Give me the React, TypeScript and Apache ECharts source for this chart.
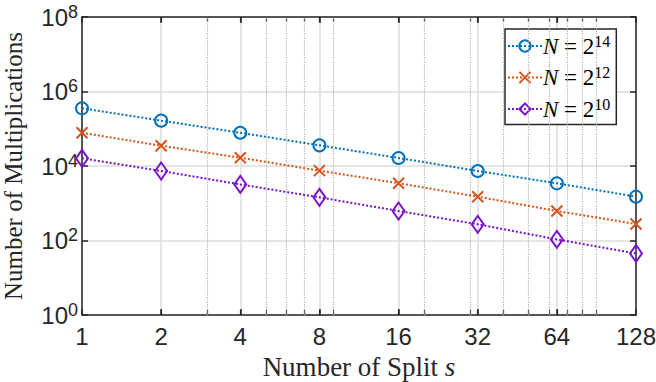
import React, { useEffect, useRef } from "react";
import * as echarts from "echarts";

const splits = [1, 2, 4, 8, 16, 32, 64, 128];
const seriesNames = ["N = 2^14", "N = 2^12", "N = 2^10"];
const exps = ["14", "12", "10"];
const n14 = [3.54e5, 1.65e5, 7.8e4, 3.59e4, 1.64e4, 7.35e3, 3.43e3, 1.5e3];
const n12 = [7.8e4, 3.5e4, 1.67e4, 7.5e3, 3.45e3, 1.5e3, 620, 277];
const n10 = [1.61e4, 7.35e3, 3.2e3, 1.44e3, 620, 272, 107, 45];
const minorX = [3, 5, 6, 7, 9, 20, 30, 40, 50, 60, 70, 80, 90];
const minorTickX = [2, 3, 4, 5, 6, 7, 8, 9, 16, 20, 30, 32, 40, 50, 60, 64, 70, 80, 90];

const colors = ["#0072BD", "#D95319", "#7A10CC"];
const AX = "#262626";

export default function App() {
  const ref = useRef<HTMLDivElement>(null);
  useEffect(() => {
    if (!ref.current) return;
    document.body.style.margin = "0";
    const chart = echarts.init(ref.current, undefined, { renderer: "svg" });
    const datas = [n14, n12, n10];
    const symbols = ["circle", "path://M0,0L10,10M10,0L0,10", "diamond"];
    const sizes: any[] = [12, 11, [12, 17]];
    const baseX = {
      type: "log",
      logBase: 2,
      min: 1,
      max: 128,
      interval: 1,
    };
    const option: any = {
      animation: false,
      backgroundColor: "#fff",
      grid: { left: 82, right: 20, top: 17, bottom: 67, containLabel: false, outerBoundsMode: "none" },
      legend: {
        orient: "vertical",
        left: 505,
        top: 29,
        padding: [4, 6, 4, 2],
        itemWidth: 34,
        itemHeight: 14,
        itemGap: 7,
        borderColor: AX,
        borderWidth: 1.5,
        backgroundColor: "#fff",
        data: seriesNames,
        formatter: (name: string) => {
          const i = seriesNames.indexOf(name);
          return `{i|N} = 2{s|${exps[i]}}`;
        },
        textStyle: {
          fontFamily: "Liberation Serif",
          fontSize: 23,
          color: "#000",
          padding: [0, 0, 0, -4],
          rich: {
            i: { fontFamily: "Liberation Serif", fontStyle: "italic", fontSize: 23, color: "#000" },
            s: { fontFamily: "Liberation Serif", fontSize: 16, color: "#000", padding: [0, 0, 10, 0] },
          },
        },
      },
      xAxis: [
        {
          ...baseX,
          position: "bottom",
          name: "Number of Split {i|s}",
          nameLocation: "middle",
          nameGap: 38,
          nameTextStyle: {
            fontFamily: "Liberation Serif",
            fontSize: 27,
            color: AX,
            rich: { i: { fontFamily: "Liberation Serif", fontStyle: "italic", fontSize: 27, color: AX } },
          },
          axisLine: { show: true, onZero: false, lineStyle: { color: AX, width: 1.5 } },
          axisTick: { show: true, inside: true, length: 6, lineStyle: { color: AX, width: 1.5 } },
          axisLabel: {
            show: true,
            margin: 9,
            fontFamily: "Liberation Sans",
            fontSize: 24,
            color: AX,
            formatter: (v: number) => String(Math.round(v)),
          },
          splitLine: { show: true, lineStyle: { color: "#dcdcdc", width: 1.5 } },
        },
        {
          ...baseX,
          position: "top",
          axisLine: { show: true, onZero: false, lineStyle: { color: AX, width: 1.5 } },
          axisTick: { show: true, inside: true, length: 6, lineStyle: { color: AX, width: 1.5 } },
          axisLabel: { show: false },
          splitLine: { show: false },
        },
        {
          ...baseX,
          position: "bottom",
          axisLine: { show: false },
          axisTick: { show: true, inside: true, length: 5, customValues: minorTickX, lineStyle: { color: AX, width: 1.2 } },
          axisLabel: { show: false },
          splitLine: { show: false },
        },
        {
          ...baseX,
          position: "top",
          axisLine: { show: false },
          axisTick: { show: true, inside: true, length: 5, customValues: minorTickX, lineStyle: { color: AX, width: 1.2 } },
          axisLabel: { show: false },
          splitLine: { show: false },
        },
      ],
      yAxis: [
        {
          type: "log",
          logBase: 10,
          min: 1,
          max: 1e8,
          interval: 2,
          position: "left",
          name: "Number of Multiplications",
          nameLocation: "middle",
          nameGap: 56,
          nameTextStyle: { fontFamily: "Liberation Serif", fontSize: 25, color: AX },
          axisLine: { show: true, onZero: false, lineStyle: { color: AX, width: 1.5 } },
          axisTick: { show: true, inside: true, length: 6, lineStyle: { color: AX, width: 1.5 } },
          axisLabel: {
            show: true,
            margin: 4,
            formatter: (v: number) => `{b|10}{s|${Math.round(Math.log10(v))}}`,
            rich: {
              b: { fontFamily: "Liberation Sans", fontSize: 24, color: AX, width: 22 },
              s: { fontFamily: "Liberation Sans", fontSize: 18, color: AX, padding: [0, 0, 11, 0] },
            },
          },
          splitLine: { show: true, lineStyle: { color: "#dcdcdc", width: 1.5 } },
        },
        {
          type: "log",
          logBase: 10,
          min: 1,
          max: 1e8,
          interval: 2,
          position: "right",
          axisLine: { show: true, onZero: false, lineStyle: { color: AX, width: 1.5 } },
          axisTick: { show: true, inside: true, length: 6, lineStyle: { color: AX, width: 1.5 } },
          axisLabel: { show: false },
          splitLine: { show: false },
        },
      ],
      series: [
        {
          type: "line",
          name: "_grid",
          data: [],
          silent: true,
          z: 1,
          markLine: {
            silent: true,
            symbol: "none",
            label: { show: false },
            lineStyle: { type: "dotted", color: "#b4b4b4", width: 1.2 },
            data: minorX.map((v) => ({ xAxis: v })),
          },
        },
        ...datas.map((d, i) => ({
          type: "line",
          name: seriesNames[i],
          data: d.map((v, j) => [splits[j], v]),
          color: colors[i],
          symbol: symbols[i],
          symbolSize: sizes[i],
          showAllSymbol: true,
          z: 5,
          lineStyle: { type: "dotted", width: 2, color: colors[i] },
          itemStyle: { color: "rgba(255,255,255,0)", borderColor: colors[i], borderWidth: 2 },
        })),
      ],
    };
    chart.setOption(option);
    return () => chart.dispose();
  }, []);
  return <div ref={ref} style={{ width: 656, height: 382 }} />;
}
